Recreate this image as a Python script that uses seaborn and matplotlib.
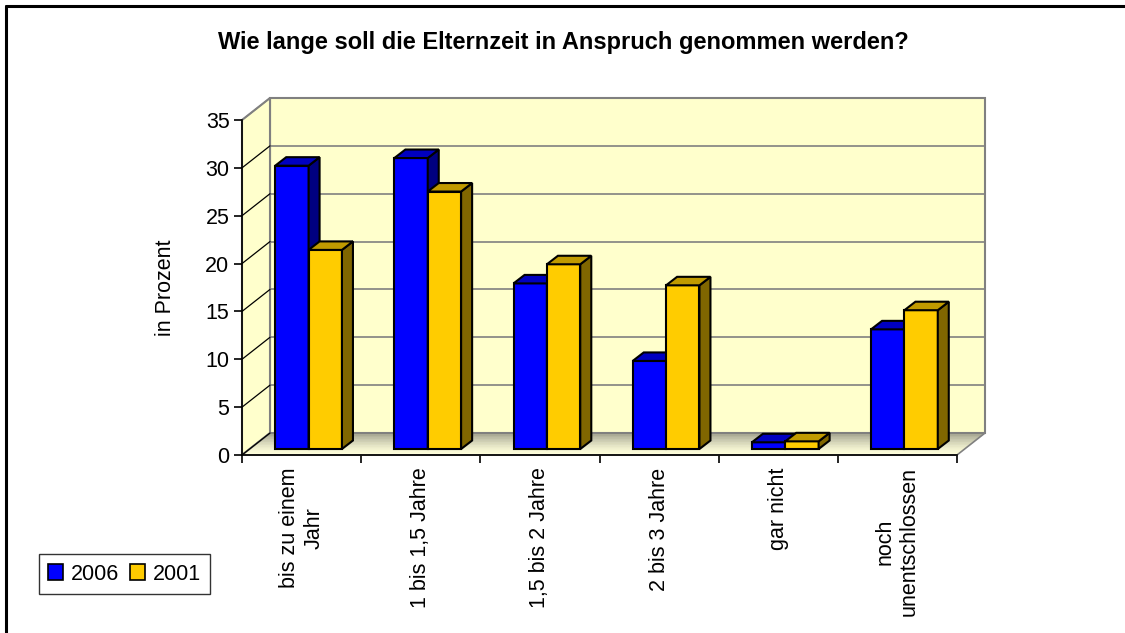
import matplotlib
matplotlib.use("Agg")
import matplotlib.pyplot as plt
from matplotlib.patches import Polygon, Patch
from matplotlib.lines import Line2D
import numpy as np
import pandas as pd
import seaborn as sns

# data
categories = ["bis zu einem\nJahr", "1 bis 1,5 Jahre", "1,5 bis 2 Jahre",
              "2 bis 3 Jahre", "gar nicht", "noch\nunentschlossen"]
years = ["2006", "2001"]
values_2006 = [29.6, 30.4, 17.3, 9.2, 0.7, 12.5]
values_2001 = [20.8, 26.9, 19.3, 17.1, 0.8, 14.5]
y_ticks = [0, 5, 10, 15, 20, 25, 30, 35]

front_colors = {"2006": "#0000FF", "2001": "#FFCC00"}
side_colors = {"2006": "#000080", "2001": "#806600"}
top_colors = {"2006": "#0000C0", "2001": "#C09A00"}

df = pd.DataFrame({
    "Kategorie": categories * 2,
    "Jahr": [years[0]] * len(categories) + [years[1]] * len(categories),
    "Prozent": values_2006 + values_2001,
})

sns.set_style("white")
plt.rcParams["font.family"] = ["Liberation Sans", "DejaVu Sans"]
plt.rcParams["text.color"] = "black"
plt.rcParams["axes.labelcolor"] = "black"
plt.rcParams["xtick.color"] = "black"
plt.rcParams["ytick.color"] = "black"
FS = 15.5

W, H = 1125, 633
fig = plt.figure(figsize=(W / 100, H / 100), dpi=100)


def fig_rect(x0, y_top, x1, y_bot):
    return [x0 / W, 1 - y_bot / H, (x1 - x0) / W, (y_bot - y_top) / H]


# front plane axes (axis lines, ticks, walls)
ax_f = fig.add_axes(fig_rect(242, 120, 957, 455))
ax_f.set_xlim(-0.5, len(categories) - 0.5)
ax_f.set_ylim(0, 35)
ax_f.patch.set_alpha(0)
# bar plane axes (slightly behind the front plane)
BX, BY = 7, 6
ax_b = fig.add_axes(fig_rect(242 + BX, 120 - BY, 957 + BX, 455 - BY))
ax_b.patch.set_alpha(0)

DX, DY = 28, 22  # depth of the floor in pixels


def disp(ax, x, y, ox=0, oy=0):
    px, py = ax.transData.transform((x, y))
    return (px + ox, py + oy)


x0, x1 = -0.5, len(categories) - 0.5
wall = "#FFFFCC"
edge = "#808080"

# back wall
ax_f.add_patch(Polygon([disp(ax_f, x0, 0, DX, DY), disp(ax_f, x1, 0, DX, DY),
                        disp(ax_f, x1, 35, DX, DY), disp(ax_f, x0, 35, DX, DY)],
                       closed=True, transform=None, facecolor=wall,
                       edgecolor=edge, lw=1.5, zorder=0.5, clip_on=False))
# left wall
ax_f.add_patch(Polygon([disp(ax_f, x0, 0), disp(ax_f, x0, 0, DX, DY),
                        disp(ax_f, x0, 35, DX, DY), disp(ax_f, x0, 35)],
                       closed=True, transform=None, facecolor=wall,
                       edgecolor=edge, lw=1.5, zorder=0.5, clip_on=False))
# floor with shading towards the back
n = 30
for i in range(n):
    t0, t1 = i / n, (i + 1) / n
    shade = np.array([1.0, 1.0, 0.82]) * (1 - 0.47 * t1 ** 1.6)
    ax_f.add_patch(Polygon([disp(ax_f, x0, 0, DX * t0, DY * t0), disp(ax_f, x1, 0, DX * t0, DY * t0),
                            disp(ax_f, x1, 0, DX * t1, DY * t1), disp(ax_f, x0, 0, DX * t1, DY * t1)],
                           closed=True, transform=None, facecolor=shade,
                           edgecolor="none", zorder=0.6, clip_on=False))
ax_f.add_patch(Polygon([disp(ax_f, x0, 0), disp(ax_f, x1, 0),
                        disp(ax_f, x1, 0, DX, DY), disp(ax_f, x0, 0, DX, DY)],
                       closed=True, transform=None, facecolor="none",
                       edgecolor=edge, lw=1.2, zorder=0.7, clip_on=False))
# gridlines on back wall and left wall
for yt in y_ticks[1:]:
    a = disp(ax_f, x0, yt, DX, DY)
    b = disp(ax_f, x1, yt, DX, DY)
    ax_f.add_line(Line2D([a[0], b[0]], [a[1], b[1]], transform=None,
                         color=edge, lw=1.2, zorder=0.8, clip_on=False))
for yt in y_ticks:
    a = disp(ax_f, x0, yt)
    b = disp(ax_f, x0, yt, DX, DY)
    ax_f.add_line(Line2D([a[0], b[0]], [a[1], b[1]], transform=None,
                         color="black" if yt < 35 else edge, lw=0.9, zorder=0.8,
                         clip_on=False))

# bars
sns.barplot(data=df, x="Kategorie", y="Prozent", hue="Jahr", hue_order=years,
            palette=front_colors, width=0.56, edgecolor="black", linewidth=1.5,
            saturation=1, legend=False, ax=ax_b)
ax_b.set_xlim(-0.5, len(categories) - 0.5)
ax_b.set_ylim(0, 35)
ax_b.set_axis_off()

bdx, bdy = 11, 8.5
for k, p in enumerate(ax_b.patches):
    year = years[k // len(categories)]
    p.set_zorder(2 + 2 * years.index(year))
    p.set_clip_on(False)
    x, w, h = p.get_x(), p.get_width(), p.get_height()
    side = [disp(ax_b, x + w, 0), disp(ax_b, x + w, 0, bdx, bdy),
            disp(ax_b, x + w, h, bdx, bdy), disp(ax_b, x + w, h)]
    top = [disp(ax_b, x, h), disp(ax_b, x + w, h),
           disp(ax_b, x + w, h, bdx, bdy), disp(ax_b, x, h, bdx, bdy)]
    ax_b.add_patch(Polygon(side, closed=True, transform=None, facecolor=side_colors[year],
                           edgecolor="black", lw=1.5, zorder=p.get_zorder() + 0.5,
                           clip_on=False))
    ax_b.add_patch(Polygon(top, closed=True, transform=None, facecolor=top_colors[year],
                           edgecolor="black", lw=1.5, zorder=p.get_zorder() + 0.5,
                           clip_on=False))

# front axes styling
for s in ["top", "right"]:
    ax_f.spines[s].set_visible(False)
for s in ["left", "bottom"]:
    ax_f.spines[s].set_color("black")
    ax_f.spines[s].set_linewidth(1.2)
    ax_f.spines[s].set_zorder(5)
ax_f.set_yticks(y_ticks)
ax_f.set_yticklabels([str(v) for v in y_ticks], fontsize=FS)
ax_f.tick_params(axis="y", left=True, length=6, width=1.2, color="black", pad=3)
ax_f.set_xticks(range(len(categories)))
ax_f.set_xticklabels(categories, rotation=90, fontsize=FS, va="top", ha="center",
                     multialignment="center")
ax_f.set_xticks(np.arange(len(categories) + 1) - 0.5, minor=True)
ax_f.tick_params(axis="x", which="major", length=0, pad=9)
ax_f.tick_params(axis="x", which="minor", bottom=True, length=6, width=1.2, color="black")
ax_f.set_xlabel("")
ax_f.set_ylabel("in Prozent", fontsize=FS)
ax_f.yaxis.set_label_coords(-0.092, 0.5)

fig.text(563 / W, 1 - 42 / H, "Wie lange soll die Elternzeit in Anspruch genommen werden?",
         ha="center", va="center", fontsize=17, fontweight="bold", color="black")

handles = [Patch(facecolor=front_colors[y], edgecolor="black", lw=1.2) for y in years]
leg = fig.legend(handles, years, loc="center", bbox_to_anchor=(124.5 / W, 1 - 574 / H),
                 ncol=2, fontsize=FS, frameon=True, fancybox=False, handlelength=0.7,
                 handleheight=0.7, handletextpad=0.35, columnspacing=0.5,
                 borderpad=0.45, borderaxespad=0)
leg.get_frame().set_edgecolor("black")
leg.get_frame().set_linewidth(1.0)

# chart border (top and left edges)
fig.add_artist(Line2D([6 / W, 6 / W], [0, 1 - 6 / H], transform=fig.transFigure,
                      color="black", lw=2.2))
fig.add_artist(Line2D([6 / W, 1], [1 - 6 / H, 1 - 6 / H], transform=fig.transFigure,
                      color="black", lw=2.2))

fig.savefig("out.png", dpi=100)
